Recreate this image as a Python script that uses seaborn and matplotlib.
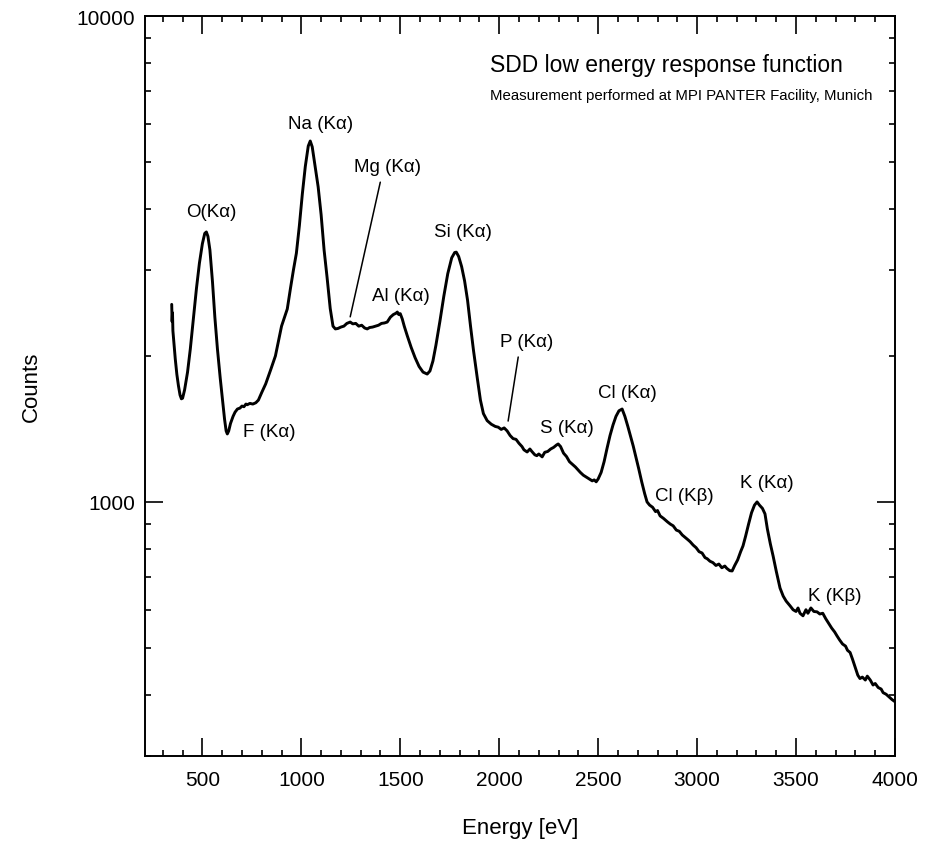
import numpy as np
import pandas as pd
import matplotlib
matplotlib.use("Agg")
import matplotlib.pyplot as plt
import matplotlib.ticker as mticker
from matplotlib import font_manager
import seaborn as sns

# Measured spectrum: energy [eV] and counts
energy = [345, 347, 349, 351, 357, 363, 371, 379, 387, 394, 400, 410, 425, 439, 455,
          470, 485, 500, 512, 520, 528, 538, 551, 563, 576, 590, 601, 612, 620, 626,
          633, 642, 655, 665, 677, 690, 700, 710, 720, 727, 740, 755, 770, 783, 800,
          820, 845, 869, 885, 900, 915, 929, 945, 960, 975, 990, 1005, 1020, 1035, 1045,
          1055, 1070, 1085, 1100, 1115, 1130, 1146, 1160, 1172, 1185, 1200, 1215, 1230,
          1247, 1260, 1275, 1290, 1305, 1320, 1333, 1345, 1360, 1375, 1390, 1405, 1420,
          1434, 1450, 1465, 1478, 1485, 1492, 1500, 1510, 1520, 1535, 1555, 1575, 1595,
          1615, 1636, 1650, 1665, 1680, 1700, 1720, 1740, 1760, 1775, 1783, 1795, 1810,
          1825, 1840, 1855, 1870, 1889, 1905, 1920, 1939, 1960, 1980, 1995, 2010, 2025,
          2040, 2055, 2070, 2085, 2100, 2115, 2125, 2141, 2155, 2165, 2180, 2190, 2200,
          2217, 2230, 2245, 2260, 2275, 2290, 2298, 2310, 2325, 2340, 2355, 2370, 2385,
          2394, 2410, 2425, 2440, 2455, 2470, 2480, 2490, 2500, 2515, 2530, 2545, 2560,
          2575, 2590, 2605, 2621, 2635, 2650, 2665, 2677, 2690, 2705, 2720, 2735, 2747,
          2760, 2775, 2790, 2800, 2813, 2830, 2850, 2865, 2879, 2895, 2910, 2925, 2940,
          2955, 2965, 2980, 2995, 3010, 3025, 3040, 3051, 3065, 3080, 3095, 3110, 3125,
          3140, 3150, 3165, 3177, 3190, 3205, 3220, 3232, 3245, 3260, 3275, 3290, 3303,
          3315, 3330, 3343, 3355, 3370, 3384, 3400, 3419, 3435, 3450, 3470, 3485, 3500,
          3510, 3520, 3535, 3550, 3560, 3575, 3590, 3606, 3620, 3635, 3650, 3662, 3680,
          3695, 3707, 3720, 3735, 3750, 3760, 3773, 3785, 3800, 3812, 3823, 3835, 3850,
          3860, 3875, 3889, 3900, 3915, 3930, 3940, 3955, 3970, 3985, 4000]
counts = [2550, 2350, 2450, 2250, 2100, 1968, 1830, 1734, 1660, 1630, 1635, 1700, 1850,
          2065, 2400, 2750, 3100, 3400, 3570, 3594, 3520, 3300, 2838, 2400, 2065, 1800,
          1630, 1480, 1400, 1380, 1400, 1450, 1500, 1530, 1553, 1560, 1575, 1570, 1590,
          1585, 1595, 1590, 1600, 1620, 1680, 1750, 1870, 1997, 2150, 2300, 2400, 2495,
          2750, 3000, 3250, 3700, 4300, 4900, 5400, 5530, 5380, 4900, 4450, 3900, 3300,
          2900, 2500, 2300, 2270, 2275, 2290, 2300, 2330, 2345, 2325, 2330, 2300, 2310,
          2280, 2270, 2285, 2290, 2300, 2310, 2330, 2335, 2345, 2400, 2430, 2445, 2459,
          2430, 2440, 2380, 2300, 2200, 2080, 1980, 1900, 1850, 1833, 1860, 1950, 2100,
          2350, 2650, 2950, 3180, 3260, 3266, 3200, 3050, 2850, 2600, 2300, 2050, 1800,
          1620, 1520, 1470, 1445, 1430, 1425, 1410, 1420, 1400, 1370, 1350, 1345, 1320,
          1300, 1280, 1267, 1285, 1270, 1250, 1245, 1255, 1238, 1265, 1270, 1285, 1295,
          1310, 1316, 1300, 1260, 1240, 1210, 1195, 1180, 1169, 1150, 1135, 1125, 1115,
          1105, 1110, 1100, 1115, 1150, 1210, 1290, 1370, 1440, 1500, 1540, 1553, 1500,
          1430, 1360, 1304, 1240, 1170, 1100, 1040, 1000, 985, 975, 955, 960, 936, 925,
          910, 900, 893, 875, 870, 855, 845, 835, 828, 815, 805, 790, 785, 768, 764, 755,
          750, 740, 745, 732, 738, 730, 722, 721, 740, 760, 790, 812, 850, 900, 950, 985,
          1000, 985, 970, 945, 880, 820, 774, 720, 665, 640, 625, 611, 600, 595, 605, 590,
          583, 600, 590, 605, 595, 594, 588, 590, 575, 565, 550, 540, 530, 520, 510, 505,
          495, 490, 475, 455, 440, 433, 436, 430, 438, 430, 420, 423, 415, 412, 405, 402,
          397, 392, 388]

# Line labels: text, energy, counts (label centre)
line_names = ["O(Kα)", "Na (Kα)", "Mg (Kα)", "Al (Kα)", "Si (Kα)", "P (Kα)",
              "S (Kα)", "Cl (Kα)", "F (Kα)", "Cl (Kβ)", "K (Kα)", "K (Kβ)"]
line_x = [545, 1096, 1434, 1505, 1818, 2136, 2343, 2646, 838, 2934, 3354, 3697]
line_y = [3954, 5998, 4910, 2656, 3594, 2143, 1426, 1683, 1393, 1029, 1099, 641]

# Leader lines for the weak lines (from label to curve)
mg_leader_x = [1399, 1247]
mg_leader_y = [4550, 2404]
p_leader_x = [2096, 2045]
p_leader_y = [1987, 1467]

title = "SDD low energy response function"
subtitle = "Measurement performed at MPI PANTER Facility, Munich"


def pick_font(candidates):
    for name in candidates:
        try:
            font_manager.findfont(name, fallback_to_default=False)
            return name
        except ValueError:
            continue
    return "DejaVu Sans"


sns.set_style("ticks")
font = pick_font(["Liberation Sans Narrow", "Liberation Sans"])
plt.rcParams["font.family"] = [font, "DejaVu Sans"]
plt.rcParams.update({"text.color": "black", "axes.labelcolor": "black",
                     "xtick.color": "black", "ytick.color": "black",
                     "axes.edgecolor": "black"})

fig = plt.figure(figsize=(9.37, 8.53), dpi=100)
ax = fig.add_axes([145 / 937, 1 - 757 / 853, 750 / 937, 740 / 853])

df = pd.DataFrame({"Energy": energy, "Counts": counts})
sns.lineplot(data=df, x="Energy", y="Counts", ax=ax, color="black",
             linewidth=2.1, estimator=None, sort=False)

ax.set_yscale("log")
ax.set_xlim(210, 4000)
ax.set_ylim(300, 10000)

ax.xaxis.set_major_locator(mticker.MultipleLocator(500))
ax.xaxis.set_minor_locator(mticker.MultipleLocator(100))
ax.xaxis.set_major_formatter(mticker.FuncFormatter(
    lambda v, p: f"{int(v)}" if v >= 500 else ""))
ax.yaxis.set_major_locator(mticker.FixedLocator([1000, 10000]))
ax.yaxis.set_minor_locator(mticker.LogLocator(base=10, subs=np.arange(2, 10)))
ax.yaxis.set_major_formatter(mticker.FixedFormatter(["1000", "10000"]))
ax.yaxis.set_minor_formatter(mticker.NullFormatter())

for a in ("x", "y"):
    ax.tick_params(axis=a, which="major", direction="in", length=13, width=1.2,
                   top=True, right=True, labelsize=15, color="black",
                   labelcolor="black")
    ax.tick_params(axis=a, which="minor", direction="in", length=4.5, width=1.2,
                   top=True, right=True, color="black")
ax.tick_params(axis="x", which="major", pad=10)
ax.tick_params(axis="y", which="major", pad=7)

for s in ax.spines.values():
    s.set_visible(True)
    s.set_linewidth(1.4)
    s.set_color("black")

ax.set_xlabel("Energy [eV]", fontsize=16, color="black")
ax.set_ylabel("Counts", fontsize=16, color="black")
ax.xaxis.set_label_coords(0.5, -0.082)
ax.yaxis.set_label_coords(-0.137, 0.5)

for name, x, y in zip(line_names, line_x, line_y):
    ax.text(x, y, name, fontsize=13.5, ha="center", va="center", color="black")

ax.plot(mg_leader_x, mg_leader_y, color="black", linewidth=1.1)
ax.plot(p_leader_x, p_leader_y, color="black", linewidth=1.1)

ax.text(0.46, 0.935, title, transform=ax.transAxes, fontsize=16.5,
        ha="left", va="center", color="black")
ax.text(0.46, 0.893, subtitle, transform=ax.transAxes, fontsize=10.8,
        ha="left", va="center", color="black")

fig.savefig("out.png", dpi=100)
